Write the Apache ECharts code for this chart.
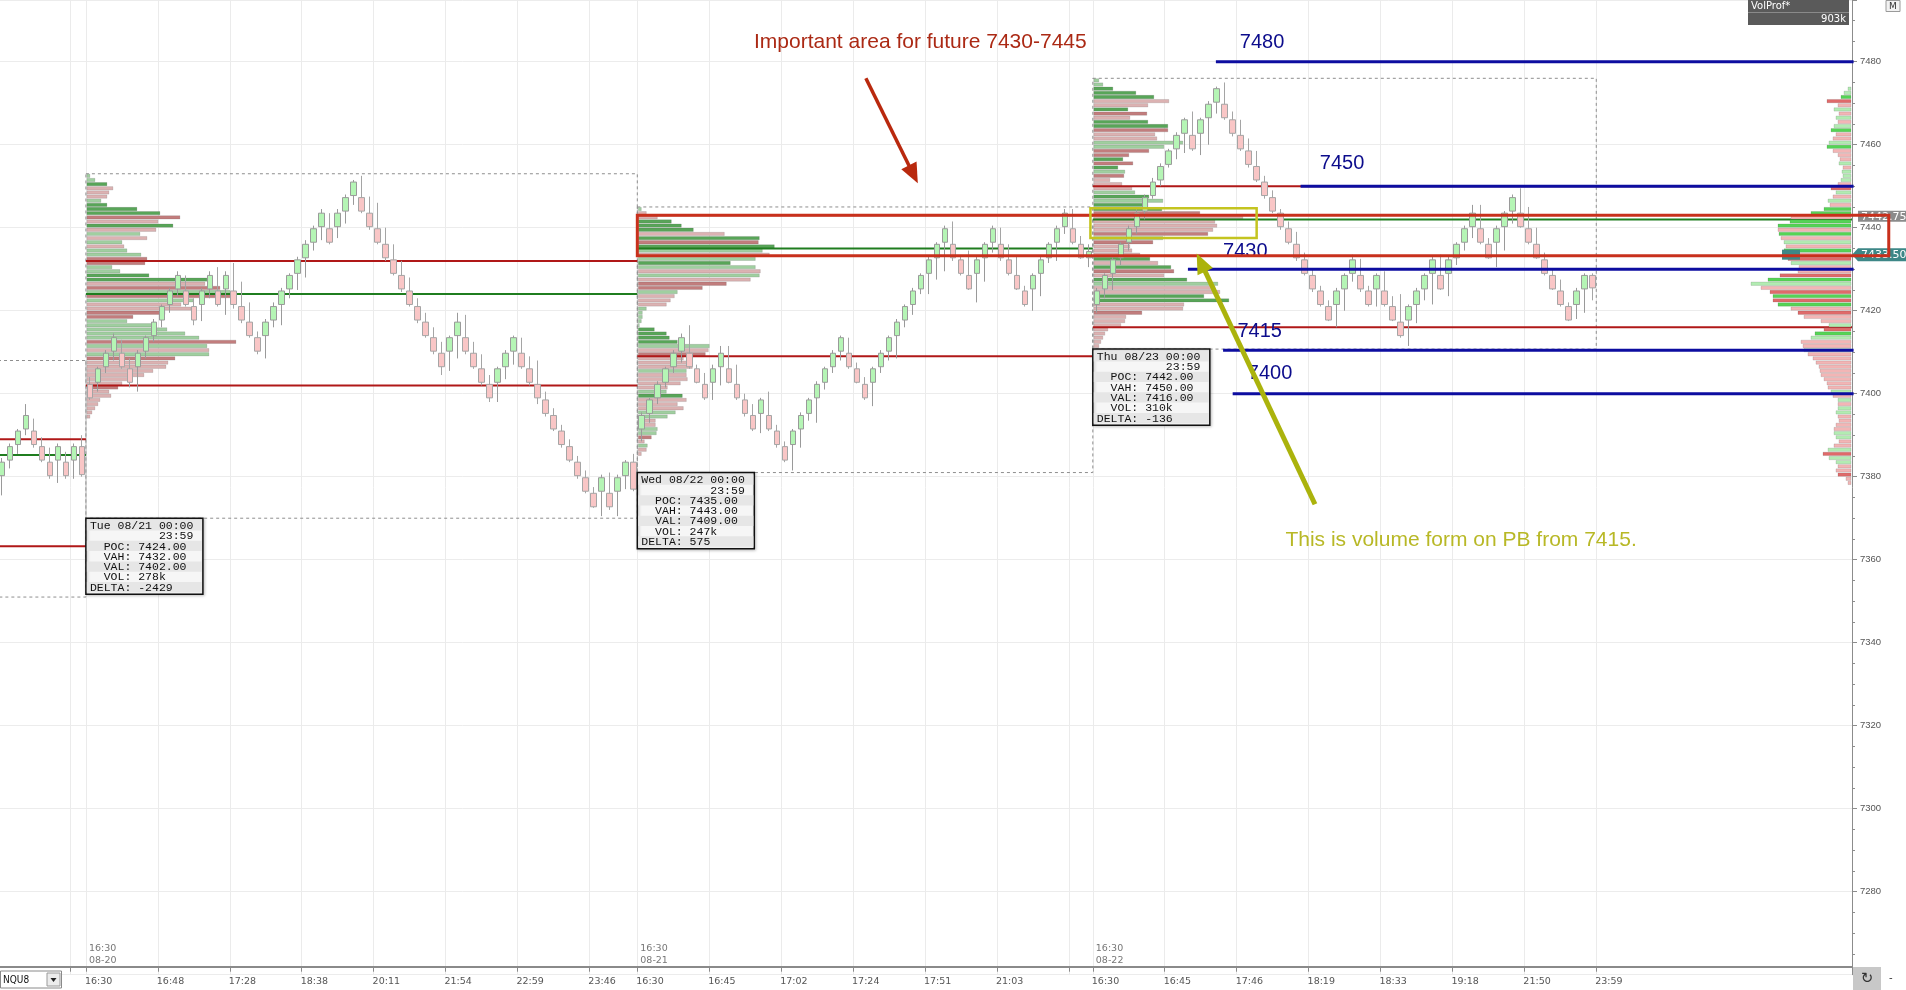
<!DOCTYPE html>
<html>
<head>
<meta charset="utf-8">
<script src="https://cdn.jsdelivr.net/npm/echarts@6/dist/echarts.min.js"></script>
<style>html,body{margin:0;padding:0;background:#fff;}#c{width:1906px;height:990px;}</style>
</head>
<body>
<div id="c"></div>
<script>
// ================= DATA =================
const slotCount = 232;
const tickIndex  = [9, 11, 20, 29, 38, 47, 56, 65, 74, 80, 89, 98, 107, 116, 125, 134, 137, 146, 155, 164, 173, 182, 191, 200];
const tickLabels = ['', '16:30','16:48','17:28','18:38','20:11','21:54','22:59','23:46','16:30','16:45','17:02','17:24','17:51','21:03','', '16:30','16:45','17:46','18:19','18:33','19:18','21:50','23:59'];
const priceMin = 7260;
const priceMax = 7494.87;
const priceStep = 20;

// bars: [open, close, low, high]
const preBars = [
 [7380.25,7383.5,7375.5,7384.5],[7384,7387.25,7382,7388],[7387.75,7391,7385.5,7391.5],[7391.5,7394.75,7390,7397.5],
 [7391,7387.75,7387,7394],[7387.25,7384,7383.5,7389.5],[7383.5,7380.25,7379.5,7387],[7384,7387.25,7378.5,7388],
 [7383.5,7380.25,7379.5,7386],[7384,7387.25,7379.5,7388],[7387.25,7380.5,7380,7390]
];
const s1Bars = [
 [7402.25,7399,7398.5,7404],[7402.75,7406,7400.5,7406.5],[7406.5,7409.75,7405,7410.5],[7410.25,7413.5,7408,7414.5],
 [7409.75,7406.5,7406,7413],[7406,7402.75,7401.5,7408.5],[7406.5,7409.75,7400.5,7410.5],[7410.25,7413.5,7408.5,7414],
 [7414,7417.25,7412.5,7418],[7417.75,7421,7416,7421.5],[7421.5,7424.75,7419.5,7425.5],[7425.25,7428.5,7423.5,7429.5],
 [7424.75,7421.5,7421,7428.5],[7421,7417.75,7416.5,7423],[7421.5,7424.75,7417.5,7425.5],[7425.25,7428.5,7423,7429.5],
 [7424.75,7421.5,7421,7430.5],[7425.25,7428.5,7419,7429.5],[7424.75,7421.5,7420.5,7431.5],[7421,7417.75,7417,7427],
 [7417.25,7414,7413.5,7422],[7413.5,7410.25,7409.5,7415],[7414,7417.25,7408.5,7418],[7417.75,7421,7416,7422],
 [7421.5,7424.75,7416.5,7425.5],[7425.25,7428.5,7423,7429],[7429,7432.25,7425,7433],[7432.75,7436,7428,7437],
 [7436.5,7439.75,7434.5,7440.5],[7440.25,7443.5,7437,7444.5],[7439.75,7436.5,7436,7443.5],[7440.25,7443.5,7437.5,7444.5],
 [7444,7447.25,7441,7448],[7447.75,7451,7445.5,7451.5],[7447.25,7444,7443.5,7452.5],[7443.5,7440.25,7439.5,7447.5],
 [7439.75,7436.5,7436,7446],[7436,7432.75,7432,7440],[7432.25,7429,7428.5,7436],[7428.5,7425.25,7424.5,7432],
 [7424.75,7421.5,7421,7428],[7421,7417.75,7417,7423],[7417.25,7414,7413.5,7419.5],[7413.5,7410.25,7409.5,7416],
 [7409.75,7406.5,7404.5,7412.5],[7410.25,7413.5,7405.5,7414],[7414,7417.25,7408.5,7419.5],[7413.5,7410.25,7409.5,7419],
 [7409.75,7406.5,7406,7412.5],[7406,7402.75,7402,7409.5],[7402.25,7399,7398,7404.5],[7402.75,7406,7398,7406.5],
 [7406.5,7409.75,7403.5,7410.5],[7410.25,7413.5,7407,7414],[7409.75,7406.5,7406,7413.5],[7406,7402.75,7402,7409],
 [7402.25,7399,7397.5,7408],[7398.5,7395.25,7394.5,7400.5],[7394.75,7391.5,7391,7396.5],[7391,7387.75,7387,7392.5],
 [7387.25,7384,7383.5,7389],[7383.5,7380.25,7379.5,7385],[7379.75,7376.5,7376,7381.5],[7376,7372.75,7372.5,7377.5],
 [7376.5,7379.75,7370.5,7380.5],[7376,7372.75,7372,7381],[7376.5,7379.75,7370.5,7380.5],[7380.25,7383.5,7377,7384],
 [7383.5,7377,7376.5,7385.5]
];
const s2Bars = [
 [7391.5,7394.75,7388.5,7395.5],[7395.25,7398.5,7393,7399],[7399,7402.25,7397.5,7403],[7402.75,7406,7401.5,7406.5],
 [7406.5,7409.75,7405,7410.5],[7410.25,7413.5,7407.5,7414.5],[7409.75,7406.5,7406,7416.5],[7406,7402.75,7402.5,7407],
 [7402.25,7399,7398.5,7405],[7402.75,7406,7398.5,7407],[7406.5,7409.75,7402,7411.5],[7406,7402.75,7402.5,7411.5],
 [7402.25,7399,7398.5,7407],[7398.5,7395.25,7394.5,7400],[7394.75,7391.5,7391,7397.5],[7395.25,7398.5,7390.5,7399],
 [7394.75,7391.5,7391,7400.5],[7391,7387.75,7387,7392.5],[7387.25,7384,7383.5,7388.5],[7387.75,7391,7381.5,7391.5],
 [7391.5,7394.75,7387,7395.5],[7395.25,7398.5,7393.5,7399],[7399,7402.25,7393,7403],[7402.75,7406,7401,7406.5],
 [7406.5,7409.75,7405,7410.5],[7410.25,7413.5,7408,7414],[7409.75,7406.5,7406,7413.5],[7406,7402.75,7402.5,7407.5],
 [7402.25,7399,7398.5,7404],[7402.75,7406,7397,7406.5],[7406.5,7409.75,7405,7410.5],[7410.25,7413.5,7408,7414],
 [7414,7417.25,7408.5,7418],[7417.75,7421,7416,7421.5],[7421.5,7424.75,7419,7425.5],[7425.25,7428.5,7424,7429],
 [7429,7432.25,7424,7433],[7432.75,7436,7427.5,7436.5],[7436.5,7439.75,7429.5,7440.5],[7436,7432.75,7432,7441.5],
 [7432.25,7429,7428.5,7433],[7428.5,7425.25,7425,7434.5],[7429,7432.25,7422,7433],[7432.75,7436,7427,7436.5],
 [7436.5,7439.75,7434,7440.5],[7436,7432.75,7432,7440],[7432.25,7429,7428.5,7436],[7428.5,7425.25,7425,7433],
 [7424.75,7421.5,7421,7426],[7425.25,7428.5,7420,7429],[7429,7432.25,7423.5,7433],[7432.75,7436,7431.5,7436.5],
 [7436.5,7439.75,7432,7440.5],[7440.25,7443.5,7438.5,7444.5],[7439.75,7436.5,7436,7444.5],[7436,7432.75,7432.5,7438],
 [7432.75,7434.25,7430.5,7436]
];
const s3Bars = [
 [7421.5,7424.75,7419.5,7425.5],[7425.25,7428.5,7423,7429],[7429,7432.25,7425,7433],[7432.75,7436,7431,7436.5],
 [7436.5,7439.75,7434.5,7440.5],[7440.25,7443.5,7438.5,7444.5],[7444,7447.25,7442,7448],[7447.75,7451,7447,7452],
 [7451.5,7454.75,7450,7455.5],[7455.25,7458.5,7454.5,7459],[7459,7462.25,7456.5,7463],[7462.75,7466,7458,7466.5],
 [7462.25,7459,7458.5,7468],[7462.75,7466,7457.5,7466.5],[7466.5,7469.75,7460,7470.5],[7470.25,7473.5,7467.5,7474],
 [7469.75,7466.5,7466,7475],[7466,7462.75,7462,7468],[7462.25,7459,7458.5,7466],[7458.5,7455.25,7454.5,7461.5],
 [7454.75,7451.5,7451,7458.5],[7451,7447.75,7447,7452.5],[7447.25,7444,7443.5,7449],[7443.5,7440.25,7439.5,7444.5],
 [7439.75,7436.5,7436,7441.5],[7436,7432.75,7432,7439],[7432.25,7429,7428.5,7434],[7428.5,7425.25,7424.5,7430],
 [7424.75,7421.5,7421,7426],[7421,7417.75,7417.5,7422.5],[7421.5,7424.75,7416,7425.5],[7425.25,7428.5,7420,7429],
 [7429,7432.25,7427,7433.5],[7428.5,7425.25,7424.5,7432.5],[7424.75,7421.5,7421,7426],[7425.25,7428.5,7421,7429],
 [7424.75,7421.5,7421,7429.5],[7421,7417.75,7417.5,7423.5],[7417.25,7414,7413.5,7424],[7417.75,7421,7411.5,7421.5],
 [7421.5,7424.75,7417,7425.5],[7425.25,7428.5,7422.5,7429],[7429,7432.25,7421.5,7433],[7428.5,7425.25,7425,7433.5],
 [7429,7432.25,7423.5,7433],[7432.75,7436,7431,7436.5],[7436.5,7439.75,7434.5,7440.5],[7440.25,7443.5,7437.5,7445.5],
 [7439.75,7436.5,7436,7445.5],[7436,7432.75,7432.5,7437.5],[7436.5,7439.75,7430.5,7440.5],[7440.25,7443.5,7434.5,7444],
 [7444,7447.25,7441,7448],[7443.5,7440.25,7440,7449.5],[7439.75,7436.5,7436,7445],[7436,7432.75,7432.5,7440],
 [7432.25,7429,7428.5,7434],[7428.5,7425.25,7425,7430],[7424.75,7421.5,7421,7427.5],[7421,7417.75,7417.5,7422],
 [7421.5,7424.75,7418,7425.5],[7425.25,7428.5,7419.5,7429],[7428.5,7425.5,7422.5,7429]
];

// volume profiles: [price level, volume (units), delta class: 2 strong buy, 1 buy, -1 sell, -2 strong sell]
const s1Profile = [
 [7452.5,3,1],[7451.5,8,1],[7450.5,20,2],[7449.5,26,-1],[7448.5,22,-1],[7447.5,20,-1],[7446.5,14,1],[7445.5,20,2],
 [7444.5,50,2],[7443.5,73,2],[7442.5,93,-2],[7441.5,71,-1],[7440.5,86,2],[7439.5,69,-1],[7438.5,53,1],[7437.5,60,-1],
 [7436.5,35,1],[7435.5,37,-1],[7434.5,40,1],[7433.5,54,1],[7432.5,60,-2],[7431.5,58,-2],[7430.5,25,1],[7429.5,33,1],
 [7428.5,62,2],[7427.5,120,2],[7426.5,118,-1],[7425.5,133,-2],[7424.5,143,1],[7423.5,143,-2],[7422.5,106,1],[7421.5,94,-1],
 [7420.5,104,-1],[7419.5,78,-2],[7418.5,46,-2],[7417.5,40,1],[7416.5,65,1],[7415.5,80,1],[7414.5,98,1],[7413.5,112,1],
 [7412.5,149,-2],[7411.5,120,1],[7410.5,122,-1],[7409.5,122,1],[7408.5,88,-2],[7407.5,81,-1],[7406.5,79,-1],[7405.5,66,-1],
 [7404.5,57,-1],[7403.5,45,-1],[7402.5,35,-1],[7401.5,31,-2],[7400.5,22,-1],[7399.5,24,-1],[7398.5,13,-1],[7397.5,11,-1],
 [7396.5,8,-1],[7395.5,5,-1],[7394.5,3,-1]
];
const s2Profile = [
 [7444.5,3,1],[7443.5,8,-1],[7442.5,19,-1],[7441.5,33,2],[7440.5,43,2],[7439.5,55,2],[7438.5,86,-1],[7437.5,121,2],
 [7436.5,120,-2],[7435.5,136,2],[7434.5,124,1],[7433.5,131,-1],[7432.5,117,1],[7431.5,92,2],[7430.5,117,1],[7429.5,122,-1],
 [7428.5,121,1],[7427.5,112,-1],[7426.5,88,-2],[7425.5,64,-2],[7424.5,39,1],[7423.5,36,-1],[7422.5,32,-1],[7421.5,28,-1],
 [7420.5,8,1],[7419.5,4,1],[7418.5,4,1],[7417.5,3,1],[7416.5,1,1],[7415.5,16,2],[7414.5,28,2],[7413.5,31,2],
 [7412.5,39,2],[7411.5,71,1],[7410.5,70,-1],[7409.5,67,-2],[7408.5,45,-1],[7407.5,49,-1],[7406.5,54,-1],[7405.5,48,1],
 [7404.5,48,-1],[7403.5,49,-1],[7402.5,42,-1],[7401.5,29,-1],[7400.5,28,1],[7399.5,44,2],[7398.5,48,-1],[7397.5,39,-1],
 [7396.5,45,-1],[7395.5,37,1],[7394.5,29,1],[7393.5,17,-1],[7392.5,17,-1],[7391.5,19,1],[7390.5,18,1],[7389.5,13,-2],
 [7388.5,6,-1],[7387.5,9,1],[7386.5,8,-1],[7385.5,3,-1]
];
const s3Profile = [
 [7475.5,5,1],[7474.5,9,1],[7473.5,19,2],[7472.5,42,2],[7471.5,60,2],[7470.5,75,-1],[7469.5,54,-1],[7468.5,34,2],
 [7467.5,53,-2],[7466.5,36,-1],[7465.5,54,2],[7464.5,74,2],[7463.5,74,-2],[7462.5,61,-1],[7461.5,63,-1],[7460.5,89,1],
 [7459.5,70,1],[7458.5,55,-2],[7457.5,35,-2],[7456.5,29,2],[7455.5,39,-2],[7454.5,24,2],[7453.5,31,1],[7452.5,30,-2],
 [7451.5,16,-1],[7450.5,28,-1],[7449.5,38,-1],[7448.5,41,1],[7447.5,55,2],[7446.5,69,1],[7445.5,54,2],[7444.5,68,2],
 [7443.5,106,-2],[7442.5,149,-1],[7441.5,121,-1],[7440.5,123,-1],[7439.5,119,-1],[7438.5,114,-2],[7437.5,69,1],[7436.5,59,-2],
 [7435.5,36,-1],[7434.5,38,-1],[7433.5,46,-1],[7432.5,56,2],[7431.5,64,-1],[7430.5,77,2],[7429.5,80,-2],[7428.5,70,-1],
 [7427.5,93,2],[7426.5,124,1],[7425.5,121,-1],[7424.5,126,-1],[7423.5,110,2],[7422.5,135,2],[7421.5,90,-1],[7420.5,89,-1],
 [7419.5,48,-2],[7418.5,32,-1],[7417.5,31,-1],[7416.5,27,-1],[7415.5,14,-1],[7414.5,11,-1],[7413.5,9,-1],[7412.5,7,-1],
 [7411.5,5,-1]
];
const compositeProfile = [
 [7473.5,3,1],[7472.5,7,1],[7471.5,10,2],[7470.5,24,-2],[7469.5,13,-1],[7468.5,17,1],[7467.5,12,-1],[7466.5,15,1],
 [7465.5,13,-1],[7464.5,17,1],[7463.5,20,2],[7462.5,15,-1],[7461.5,18,-1],[7460.5,22,1],[7459.5,24,2],[7458.5,18,-1],
 [7457.5,13,-1],[7456.5,11,-1],[7455.5,12,1],[7454.5,8,-1],[7453.5,9,1],[7452.5,8,1],[7451.5,10,1],[7450.5,13,-1],
 [7449.5,20,-2],[7448.5,15,1],[7447.5,18,-1],[7446.5,23,1],[7445.5,21,-1],[7444.5,27,2],[7443.5,40,2],[7442.5,60,-1],
 [7441.5,61,2],[7440.5,73,2],[7439.5,73,-1],[7438.5,72,2],[7437.5,70,-1],[7436.5,67,1],[7435.5,65,-1],[7434.5,67,2],
 [7433.5,65,-1],[7432.5,63,-2],[7431.5,60,1],[7430.5,52,-1],[7429.5,53,-1],[7428.5,71,-2],[7427.5,83,2],[7426.5,100,1],
 [7425.5,90,-1],[7424.5,81,-2],[7423.5,78,2],[7422.5,78,-2],[7421.5,73,2],[7420.5,60,-1],[7419.5,53,-2],[7418.5,47,-1],
 [7417.5,30,-1],[7416.5,22,1],[7415.5,27,-2],[7414.5,36,2],[7413.5,40,1],[7412.5,50,-1],[7411.5,48,-1],[7410.5,47,1],
 [7409.5,43,-1],[7408.5,38,-1],[7407.5,35,-1],[7406.5,32,-1],[7405.5,31,-1],[7404.5,30,-1],[7403.5,27,-1],[7402.5,24,-1],
 [7401.5,23,-1],[7400.5,20,1],[7399.5,18,-1],[7398.5,13,1],[7397.5,13,-1],[7396.5,13,1],[7395.5,15,1],[7394.5,13,-1],
 [7393.5,12,-1],[7392.5,15,-1],[7391.5,17,-1],[7390.5,17,1],[7389.5,15,1],[7388.5,12,-1],[7387.5,17,-1],[7386.5,23,1],
 [7385.5,28,-2],[7384.5,22,1],[7383.5,15,1],[7382.5,13,-1],[7381.5,15,-1],[7380.5,13,-2],[7379.5,5,-1],[7378.5,3,-1]
];

// sessions (0 = tail of previous day)
const sessionFirst = [0, 11, 80, 137];
const sessionLast  = [10, 79, 136, 199];
const sessionHigh  = [7408, 7453, 7445, 7476];
const sessionLow   = [7351, 7370, 7381, 7410.75];
const sessionVAH   = [7389, 7432, 7443, 7450];
const sessionPOC   = [7385.25, 7424, 7435, 7442];
const sessionVAL   = [7363.25, 7402, 7409, 7416];
const sessionTitle = [null, 'Tue 08/21 00:00', 'Wed 08/22 00:00', 'Thu 08/23 00:00'];
const sessionVolume = [null, '278k', '247k', '310k'];
const sessionDelta = [null, -2429, 575, -136];
const sessionDate  = [null, '08-20', '08-21', '08-22'];

const keyLevels    = [7480, 7450, 7430, 7410.5, 7400];
const keyLevelText = ['7480', '7450', '7430', '7415', '7400'];
const focusZone    = [7433.25, 7443];
const pullbackZone = [7437.5, 7444.7];
const lastPrices   = [7442.75, 7433.50];
const notes = ['Important area for future 7430-7445', 'This is volume form on PB from 7415.'];

// ================= LAYOUT / STYLE =================
const X_RIGHT = slotCount - 0.5;
const VOL_PX = 1;
const LAYOUT = {
  keyLineFrom: [151.9, 162.5, 148.4, 152.8, 154.0],
  keyLabelAt: [[154.9, 7484.7], [164.9, 7455.4], [152.8, 7434.2], [154.6, 7414.9], [155.9, 7404.9]],
  focusZoneX: [79.5, 236.1],
  pullbackZoneX: [136.2, 157.0],
  noteAt: [[94.1, 7484.7], [160.6, 7364.75]],
  noteColor: ['#ab2914', '#b8b826'],
  arrows: [[108.1, 7476.0, 114.6, 7450.7], [164.3, 7373.35, 149.5, 7433.8]],
  arrowColor: ['#b9290e', '#abb30c'],
  arrowWidth: [3.5, 5]
};
const sessPal = {'2': '#58a558', '1': '#a0cfa0', '-1': '#dcb2b2', '-2': '#c27d7d'};
const compPal = {'2': '#55d455', '1': '#b2ecb2', '-1': '#f3b5b5', '-2': '#e06a6a'};

const slotNames = Array.from({length: slotCount}, (_, i) => 's' + i);
const bars = preBars.concat(s1Bars, s2Bars, s3Bars);
const labelOf = {};
tickIndex.forEach((t, k) => { labelOf[t] = tickLabels[k]; });
const isTick = (idx) => Object.prototype.hasOwnProperty.call(labelOf, idx);

function profileSeries(rows, anchor, dir, pal, z) {
  return {
    type: 'custom', xAxisIndex: 1, yAxisIndex: 0, z: z, silent: true, clip: false,
    data: rows.map(r => [anchor, r[0], r[1], r[2]]),
    renderItem: function (params, api) {
      const p = api.coord([api.value(0), api.value(1)]);
      const h = api.size([0, 1])[1];
      const w = api.value(2) * VOL_PX;
      const x = dir > 0 ? p[0] + 1 : p[0] - w - 1;
      return {type: 'rect', shape: {x: x, y: p[1] - h * 0.4, width: w, height: h * 0.8},
        style: {fill: pal[String(api.value(3))], stroke: 'rgba(80,80,80,0.28)', lineWidth: 0.6}};
    }
  };
}

const levelLines = [];
sessionFirst.forEach((f, i) => {
  const x1 = f - 0.5, x2 = i < sessionFirst.length - 1 ? sessionFirst[i + 1] - 0.5 : X_RIGHT;
  levelLines.push([x1, x2, sessionVAH[i], 0], [x1, x2, sessionPOC[i], 1], [x1, x2, sessionVAL[i], 0]);
});

const series = [
  {type: 'custom', xAxisIndex: 1, yAxisIndex: 0, z: 1, silent: true, clip: false,
   data: sessionFirst.map((f, i) => [f - 0.5, sessionLast[i] + 0.5, sessionHigh[i], sessionLow[i]]),
   renderItem: function (params, api) {
     const a = api.coord([api.value(0), api.value(2)]);
     const b = api.coord([api.value(1), api.value(3)]);
     return {type: 'rect', shape: {x: a[0], y: a[1], width: b[0] - a[0], height: b[1] - a[1]},
       style: {fill: null, stroke: '#8e8e8e', lineWidth: 1, lineDash: [3, 3]}};
   }},
  profileSeries(s1Profile, sessionFirst[1] - 0.5, 1, sessPal, 2),
  profileSeries(s2Profile, sessionFirst[2] - 0.5, 1, sessPal, 2),
  profileSeries(s3Profile, sessionFirst[3] - 0.5, 1, sessPal, 2),
  {type: 'custom', xAxisIndex: 1, yAxisIndex: 0, z: 3, silent: true, clip: false,
   data: levelLines,
   renderItem: function (params, api) {
     const a = api.coord([api.value(0), api.value(2)]);
     const b = api.coord([api.value(1), api.value(2)]);
     return {type: 'line', shape: {x1: a[0], y1: a[1], x2: b[0], y2: b[1]},
       style: {stroke: api.value(3) === 1 ? '#1f7d1f' : '#b01818', lineWidth: 2}};
   }},
  profileSeries(compositeProfile, X_RIGHT, -1, compPal, 3.5),
  {type: 'candlestick', xAxisIndex: 0, yAxisIndex: 0, z: 4, silent: true, data: bars, barWidth: 6,
   itemStyle: {color: '#b5f5b5', color0: '#f9c6c6', borderColor: '#9a9a9a', borderColor0: '#a5a5a5', borderWidth: 1}},
  {type: 'custom', xAxisIndex: 1, yAxisIndex: 0, z: 6, silent: true, clip: false,
   data: keyLevels.map((lv, i) => [LAYOUT.keyLineFrom[i], X_RIGHT + 0.2, lv]),
   renderItem: function (params, api) {
     const a = api.coord([api.value(0), api.value(2)]);
     const b = api.coord([api.value(1), api.value(2)]);
     return {type: 'line', shape: {x1: a[0], y1: a[1], x2: b[0], y2: b[1]}, style: {stroke: '#0d0da0', lineWidth: 3}};
   }},
  {type: 'custom', xAxisIndex: 1, yAxisIndex: 0, z: 6, silent: true, clip: false,
   data: keyLevelText.map((t, i) => [LAYOUT.keyLabelAt[i][0], LAYOUT.keyLabelAt[i][1], i]),
   renderItem: function (params, api) {
     const p = api.coord([api.value(0), api.value(1)]);
     return {type: 'text', x: p[0], y: p[1], style: {text: keyLevelText[api.value(2)], fill: '#0c0c8c',
       font: '20px "Liberation Sans", Arial, sans-serif', align: 'left', verticalAlign: 'middle'}};
   }},
  {type: 'custom', xAxisIndex: 1, yAxisIndex: 0, z: 8, silent: true, clip: false,
   data: [[LAYOUT.focusZoneX[0], LAYOUT.focusZoneX[1], focusZone[1], focusZone[0], 0],
          [LAYOUT.pullbackZoneX[0], LAYOUT.pullbackZoneX[1], pullbackZone[1], pullbackZone[0], 1]],
   renderItem: function (params, api) {
     const a = api.coord([api.value(0), api.value(2)]);
     const b = api.coord([api.value(1), api.value(3)]);
     const red = api.value(4) === 0;
     return {type: 'rect', shape: {x: a[0], y: a[1], width: b[0] - a[0], height: b[1] - a[1]},
       style: {fill: null, stroke: red ? '#c8301c' : '#c4c420', lineWidth: red ? 3 : 2.5}};
   }},
  {type: 'custom', xAxisIndex: 1, yAxisIndex: 0, z: 9, silent: true, clip: false,
   data: LAYOUT.arrows.map((a, i) => [a[0], a[1], a[2], a[3], i]),
   renderItem: function (params, api) {
     const i = api.value(4);
     const a = api.coord([api.value(0), api.value(1)]);
     const b = api.coord([api.value(2), api.value(3)]);
     const dx = b[0] - a[0], dy = b[1] - a[1], L = Math.hypot(dx, dy), ux = dx / L, uy = dy / L;
     const hl = 20, hw = 8.5;
     const base = [b[0] - ux * hl, b[1] - uy * hl];
     const c = LAYOUT.arrowColor[i];
     return {type: 'group', children: [
       {type: 'line', shape: {x1: a[0], y1: a[1], x2: base[0] + ux * 2, y2: base[1] + uy * 2}, style: {stroke: c, lineWidth: LAYOUT.arrowWidth[i]}},
       {type: 'polygon', shape: {points: [b, [base[0] - uy * hw, base[1] + ux * hw], [base[0] + uy * hw, base[1] - ux * hw]]}, style: {fill: c}}
     ]};
   }},
  {type: 'custom', xAxisIndex: 1, yAxisIndex: 0, z: 9, silent: true, clip: false,
   data: notes.map((t, i) => [LAYOUT.noteAt[i][0], LAYOUT.noteAt[i][1], i]),
   renderItem: function (params, api) {
     const i = api.value(2);
     const p = api.coord([api.value(0), api.value(1)]);
     return {type: 'text', x: p[0], y: p[1], style: {text: notes[i], fill: LAYOUT.noteColor[i],
       font: '21px "Liberation Sans", Arial, sans-serif', align: 'left', verticalAlign: 'middle'}};
   }},
  {type: 'custom', xAxisIndex: 1, yAxisIndex: 0, z: 10, silent: true, clip: false,
   data: [1, 2, 3].map(i => [sessionFirst[i] - 0.5, sessionLow[i], i]),
   renderItem: function (params, api) {
     const i = api.value(2);
     const p = api.coord([api.value(0), api.value(1)]);
     const W = 117, RH = 10.3, H = RH * 7 + 4;
     const lines = [sessionTitle[i], '          23:59',
       '  POC: ' + sessionPOC[i].toFixed(2), '  VAH: ' + sessionVAH[i].toFixed(2),
       '  VAL: ' + sessionVAL[i].toFixed(2), '  VOL: ' + sessionVolume[i], 'DELTA: ' + sessionDelta[i]];
     const ch = [{type: 'rect', shape: {x: p[0], y: p[1], width: W, height: H},
       style: {fill: '#f6f6f6', stroke: '#111', lineWidth: 1.5, shadowBlur: 3, shadowOffsetX: 1, shadowOffsetY: 1, shadowColor: 'rgba(0,0,0,0.25)'}}];
     lines.forEach((t, k) => {
       if (k % 2 === 0) ch.push({type: 'rect', shape: {x: p[0] + 1, y: p[1] + 2 + k * RH, width: W - 2, height: RH}, style: {fill: '#e6e6e6'}});
       ch.push({type: 'text', x: p[0] + 4, y: p[1] + 2 + k * RH + RH / 2 + 0.5,
         style: {text: t, fill: '#111', font: '11.5px "Liberation Mono", "DejaVu Sans Mono", monospace', verticalAlign: 'middle', align: 'left'}});
     });
     return {type: 'group', children: ch};
   }},
  {type: 'custom', xAxisIndex: 1, yAxisIndex: 0, z: 5, silent: true, clip: false,
   data: [1, 2, 3].map(i => [sessionFirst[i] - 0.5, priceMin, i]),
   renderItem: function (params, api) {
     const i = api.value(2);
     const p = api.coord([api.value(0), api.value(1)]);
     const f = '9.5px "DejaVu Sans", sans-serif';
     return {type: 'group', children: [
       {type: 'text', x: p[0] + 3, y: p[1] - 26, style: {text: tickLabels[tickIndex.indexOf(sessionFirst[i])], fill: '#777', font: f, verticalAlign: 'middle'}},
       {type: 'text', x: p[0] + 3, y: p[1] - 14, style: {text: sessionDate[i], fill: '#777', font: f, verticalAlign: 'middle'}}
     ]};
   }},
  {type: 'custom', xAxisIndex: 1, yAxisIndex: 0, z: 7, silent: true, clip: false,
   data: lastPrices.map((v, i) => [X_RIGHT, v, i]),
   renderItem: function (params, api) {
     const i = api.value(2);
     const p = api.coord([api.value(0), api.value(1)]);
     const txt = {type: 'text', x: p[0] + 9, y: p[1] + 0.5, z2: 2, style: {text: lastPrices[i].toFixed(2), fill: '#fff',
       font: '11px "DejaVu Sans", sans-serif', verticalAlign: 'middle'}};
     if (i === 0) {
       return {type: 'group', children: [
         {type: 'rect', shape: {x: p[0] + 6, y: p[1] - 5.5, width: 48, height: 11}, style: {fill: '#8b8b8b'}}, txt]};
     }
     return {type: 'group', children: [
       {type: 'rect', shape: {x: p[0] - 70, y: p[1] - 5, width: 18, height: 10}, style: {fill: '#3d8787'}},
       {type: 'polygon', shape: {points: [[p[0], p[1]], [p[0] + 6, p[1] - 6.5], [p[0] + 54, p[1] - 6.5], [p[0] + 54, p[1] + 6.5], [p[0] + 6, p[1] + 6.5]]}, style: {fill: '#3d8787'}},
       txt]};
   }}
];

const option = {
  animation: false,
  backgroundColor: '#ffffff',
  grid: {left: -2, right: 54, top: 0, bottom: 15.3, containLabel: false, outerBoundsMode: 'none'},
  xAxis: [
    {type: 'category', data: slotNames, boundaryGap: true, offset: -8,
     axisLine: {show: true, onZero: false, lineStyle: {color: '#8a8a8a', width: 2}},
     axisTick: {show: true, interval: (idx) => isTick(idx), length: 5, lineStyle: {color: '#8a8a8a'}},
     axisLabel: {show: true, interval: (idx) => isTick(idx), formatter: (v, idx) => labelOf[idx] || '',
       align: 'left', margin: 10, padding: [0, 0, 0, -5], color: '#555', fontSize: 9.5, fontFamily: 'DejaVu Sans'},
     splitLine: {show: true, interval: (idx) => isTick(idx), lineStyle: {color: '#ebebeb', width: 1}}},
    {type: 'value', min: -0.5, max: X_RIGHT, show: false}
  ],
  yAxis: {type: 'value', position: 'right', min: priceMin, max: priceMax, interval: priceStep,
    axisLine: {show: true, onZero: false, lineStyle: {color: '#8c8c8c', width: 1}},
    axisTick: {show: true, length: 5, lineStyle: {color: '#8c8c8c'}},
    minorTick: {show: true, splitNumber: 4, length: 3, lineStyle: {color: '#8c8c8c'}},
    axisLabel: {color: '#555', fontSize: 9.5, fontFamily: 'Liberation Sans', margin: 8, showMinLabel: false, showMaxLabel: false,
      padding: [0, 0, 6, 0], formatter: (v) => String(v)},
    splitLine: {show: true, lineStyle: {color: '#ececec', width: 1}}},
  graphic: {elements: [
    {type: 'rect', z: 100, shape: {x: 1748, y: 0, width: 101, height: 25}, style: {fill: '#5a5a5a'}},
    {type: 'line', z: 101, shape: {x1: 1748, y1: 12.5, x2: 1849, y2: 12.5}, style: {stroke: '#8a8a8a', lineWidth: 1}},
    {type: 'text', z: 101, x: 1751, y: 6.5, style: {text: 'VolProf*', fill: '#fff', font: '10px "DejaVu Sans", sans-serif', verticalAlign: 'middle'}},
    {type: 'text', z: 101, x: 1846, y: 19, style: {text: '903k', fill: '#fff', font: '10px "DejaVu Sans", sans-serif', verticalAlign: 'middle', align: 'right'}},
    {type: 'rect', z: 100, shape: {x: 1886, y: 0.5, width: 14, height: 11}, style: {fill: '#f2f2f2', stroke: '#9a9a9a'}},
    {type: 'text', z: 101, x: 1893, y: 6.5, style: {text: 'M', fill: '#333', font: '9px "DejaVu Sans", sans-serif', align: 'center', verticalAlign: 'middle'}},
    {type: 'rect', z: 100, shape: {x: 0.5, y: 971, width: 61, height: 17}, style: {fill: '#fff', stroke: '#8a8a8a'}},
    {type: 'text', z: 101, x: 3, y: 980, style: {text: 'NQU8', fill: '#111', font: '10px "DejaVu Sans Condensed", "DejaVu Sans", sans-serif', verticalAlign: 'middle'}},
    {type: 'rect', z: 101, shape: {x: 47, y: 973, width: 13, height: 13}, style: {fill: '#ececec', stroke: '#9a9a9a'}},
    {type: 'polygon', z: 102, shape: {points: [[50.5, 978], [56.5, 978], [53.5, 982]]}, style: {fill: '#222'}},
    {type: 'rect', z: 100, shape: {x: 1853, y: 967, width: 28, height: 23}, style: {fill: '#c8c8c8'}},
    {type: 'text', z: 101, x: 1867, y: 979, style: {text: '\u21BB', fill: '#333', font: '15px "DejaVu Sans", sans-serif', align: 'center', verticalAlign: 'middle'}},
    {type: 'text', z: 101, x: 1889, y: 978, style: {text: '-', fill: '#333', font: '10px "DejaVu Sans", sans-serif', verticalAlign: 'middle'}}
  ]},
  series: series
};

const chart = echarts.init(document.getElementById('c'), null, {renderer: 'canvas'});
chart.setOption(option);
</script>
</body>
</html>
